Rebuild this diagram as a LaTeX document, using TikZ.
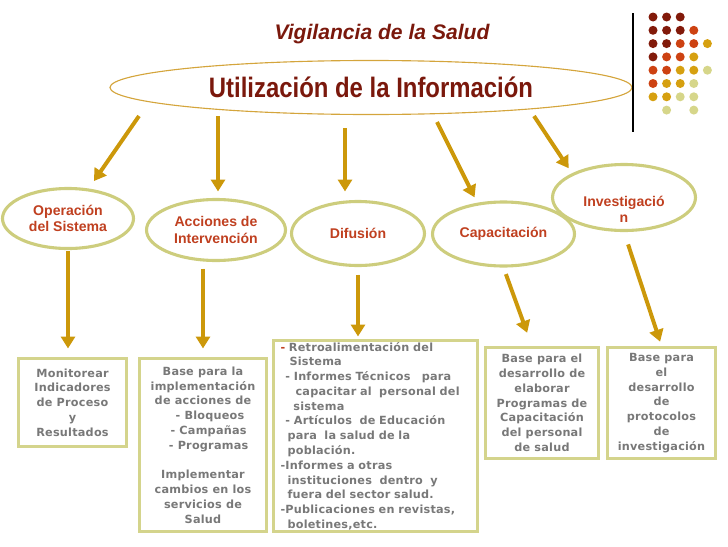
\documentclass[tikz,border=0pt]{standalone}
\usepackage{fontspec}
\setmainfont{Liberation Sans}
\newfontfamily\boxfont[LetterSpace=2]{DejaVu Sans}
\newfontfamily\narrowfont[FakeStretch=0.85]{Liberation Sans}
\usetikzlibrary{shapes.geometric,arrows.meta}
\definecolor{titlered}{RGB}{122,24,12}
\definecolor{ovaltext}{RGB}{192,64,32}
\definecolor{arrowgold}{RGB}{204,152,10}
\definecolor{ovalline}{RGB}{205,205,125}
\definecolor{boxline}{RGB}{212,212,140}
\definecolor{boxtext}{RGB}{120,120,120}
\definecolor{topline}{RGB}{212,165,60}
\definecolor{dotA}{RGB}{130,26,10}
\definecolor{dotB}{RGB}{205,66,18}
\definecolor{dotC}{RGB}{214,160,16}
\definecolor{dotD}{RGB}{214,214,138}
\newlength{\pxu}\setlength{\pxu}{0.025cm}

\begin{document}
\begin{tikzpicture}[x=0.025cm, y=-0.025cm, >={Triangle[width=10pt,length=8.5pt]},
  oval/.style={draw=ovalline, line width=2.2pt, ellipse, fill=white, inner sep=0pt,
    font=\bfseries\fontsize{10}{11.5}\selectfont, text=ovaltext, align=center},
  infobox/.style={draw=boxline, line width=2.2pt, rectangle, inner sep=0pt,
    font=\boxfont\bfseries\fontsize{8}{10.5}\selectfont, text=boxtext, align=center},
  arr/.style={->, draw=arrowgold, fill=arrowgold, line width=2.8pt}]

\useasboundingbox (0,0) rectangle (728,546);

% Title
\node[font=\bfseries\itshape\fontsize{15}{17}\selectfont, text=titlered] (title) at (382,34) {Vigilancia de la Salud};

% Central oval
\node[draw=topline, line width=0.8pt, ellipse, minimum width=522\pxu, minimum height=54\pxu, inner sep=0pt,
  font=\narrowfont\bfseries\fontsize{20}{22}\selectfont, text=titlered] (info) at (371,87.5) {Utilización de la Información};

% Decoration
\draw[line width=0.8pt] (633,13) -- (633,132);
\foreach \yy/\rowlist in {17/{1/dotA,2/dotA,3/dotA}, 30.3/{1/dotA,2/dotA,3/dotA,4/dotB},
  43.6/{1/dotA,2/dotA,3/dotB,4/dotB,5/dotC}, 56.9/{1/dotA,2/dotB,3/dotB,4/dotC},
  70.2/{1/dotB,2/dotB,3/dotC,4/dotC,5/dotD}, 83.5/{1/dotB,2/dotC,3/dotC,4/dotD},
  96.8/{1/dotC,2/dotC,3/dotD,4/dotD}, 110.1/{2/dotD,4/dotD}}
  \foreach \cc/\col in \rowlist
    \fill[\col] ({653+13.6*(\cc-1)},\yy) circle (4.5\pxu);

% Uses
\node[oval, minimum width=131\pxu, minimum height=60\pxu] (oper) at (68,218.5) {Operación\\del Sistema};
\node[oval, minimum width=139\pxu, minimum height=61\pxu, font=\bfseries\fontsize{10}{12}\selectfont] (acc) at (216,230) {Acciones de\\Intervención};
\node[oval, minimum width=133\pxu, minimum height=64\pxu] (dif) at (358,233.5) {Difusión};
\node[oval, minimum width=142\pxu, minimum height=64\pxu] (cap) at (503.5,234) {Capacitación};
\node[oval, minimum width=143\pxu, minimum height=66\pxu] (inv) at (624,197.5) {};
\node[font=\bfseries\fontsize{10}{11.5}\selectfont, text=ovaltext, align=center] (invtxt) at (624,209) {Investigació\\n};

% Results
\node[infobox, minimum width=108\pxu, minimum height=88\pxu] (mon) at (72.5,402.5)
  {Monitorear\\Indicadores\\de Proceso\\y\\Resultados};
\node[infobox, minimum width=127\pxu, minimum height=173\pxu] (base) at (203,445)
  {Base para la\\implementación\\de acciones de\\\hspace*{10pt}- Bloqueos\\\hspace*{8pt}- Campañas\\\hspace*{8pt}- Programas\\[10.5pt]
   Implementar\\cambios en los\\servicios de\\Salud};
\node[infobox, align=left, text width=190\pxu, minimum width=204\pxu, minimum height=191\pxu] (difu) at (375.5,436)
  {{\color{ovaltext}-} Retroalimentación del\\
   \hspace*{6.4pt}Sistema\\
   \hspace*{3.5pt}- Informes Técnicos \ \ para\\
   \hspace*{10.7pt}capacitar al \ personal del\\
   \hspace*{9.2pt}sistema\\
   \hspace*{3.5pt}- Artículos \ de Educación\\
   \hspace*{5pt}para \ la salud de la\\
   \hspace*{5pt}población.\\
   -Informes a otras\\
   \hspace*{5pt}instituciones \ dentro \ y\\
   \hspace*{5pt}fuera del sector salud.\\
   -Publicaciones en revistas,\\
   \hspace*{5pt}boletines,etc.};
\node[infobox, minimum width=113\pxu, minimum height=111\pxu] (capbox) at (542,403)
  {Base para el\\desarrollo de\\elaborar\\Programas de\\Capacitación\\del personal\\de salud};
\node[infobox, minimum width=108\pxu, minimum height=111\pxu] (invbox) at (661.5,403)
  {Base para\\el\\desarrollo\\de\\protocolos\\de\\investigación};

% Arrows from the central oval
\coordinate (t1) at (139,116);
\coordinate (t2) at (218,116);
\coordinate (t3) at (345,128);
\coordinate (t4) at (437,122);
\coordinate (t5) at (534,116);
\draw[arr, shorten >=9\pxu] (t1) -- (oper);
\draw[arr, shorten >=6.5\pxu] (t2) -- (t2 |- acc.north);
\draw[arr, shorten >=8.5\pxu] (t3) -- (t3 |- dif.north);
\draw[arr, shorten >=6\pxu] (t4) -- (cap.130);
\draw[arr, shorten >=6\pxu] (t5) -- (inv.155);

% Arrows to the results
\draw[arr, shorten <=1\pxu, shorten >=8.5\pxu] (oper.south) -- (oper.south |- mon.north);
\draw[arr, shorten <=6.5\pxu, shorten >=8.5\pxu] (acc.south -| base.north) -- (base.north);
\draw[arr, shorten <=7.5\pxu, shorten >=2.5\pxu] (dif.south) -- (dif.south |- difu.north);
\draw[arr, shorten <=7\pxu, shorten >=14\pxu] (cap.south) -- (capbox.100);
\draw[arr, shorten <=13\pxu, shorten >=4.5\pxu] (inv.south) -- (invbox.north);

\end{tikzpicture}
\end{document}
